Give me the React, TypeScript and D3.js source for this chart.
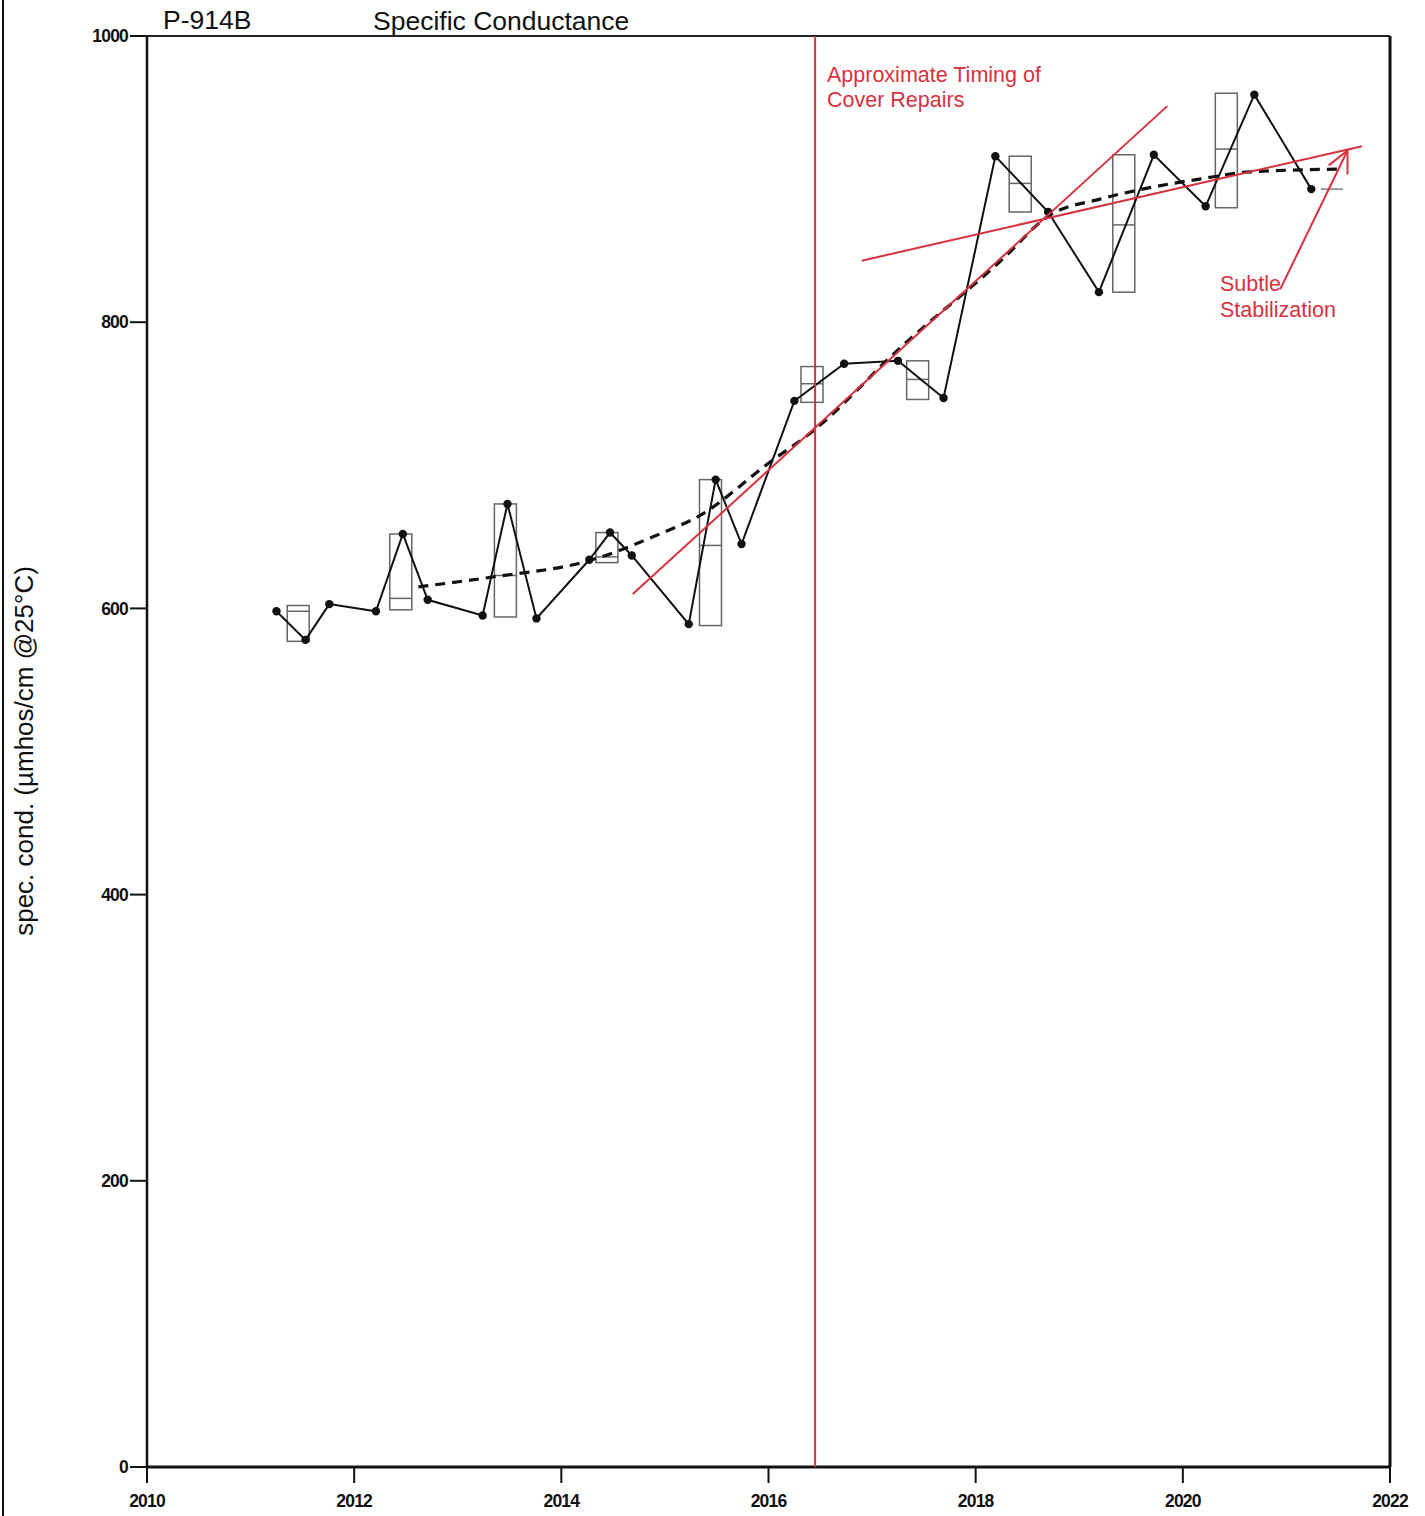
import * as d3 from 'd3';

// measured samples (decimal year, µmhos/cm)
const sampleYears = [
  2011.25, 2011.53, 2011.76, 2012.21, 2012.47, 2012.71, 2013.24, 2013.48, 2013.76,
  2014.27, 2014.47, 2014.68, 2015.23, 2015.49, 2015.74, 2016.25, 2016.73, 2017.25,
  2017.69, 2018.19, 2018.7, 2019.19, 2019.72, 2020.22, 2020.69, 2021.24,
];
const sampleValues = [
  598, 578, 603, 598, 652, 606, 595, 673, 593,
  634, 653, 637, 589, 690, 645, 745, 771, 773,
  747, 916, 877, 821, 917, 881, 959, 893,
];

// yearly boxes
const boxYears = [2011.46, 2012.45, 2013.46, 2014.44, 2015.44, 2016.42, 2017.44, 2018.43, 2019.43, 2020.42, 2021.44];
const boxLow = [577, 599, 594, 632, 588, 744, 746, 877, 821, 880, 893];
const boxMedian = [598, 607, 623, 636, 644, 757, 760, 897, 868, 921, 893];
const boxHigh = [602, 652, 673, 653, 690, 769, 773, 916, 917, 960, 893];

// smoothed trend (dashed)
const smoothYears = [2012.62, 2013.34, 2014.25, 2014.95, 2015.34, 2016.01, 2016.43, 2017.27, 2018.23, 2018.72, 2019.2, 2019.68, 2020.16, 2020.65, 2021.52];
const smoothValues = [615, 622, 633, 652, 665, 702, 724, 782, 842, 875, 886, 894, 900, 905, 907];

// hand-drawn annotations
const repairYear = 2016.45;
const steepTrend = [[2014.69, 610], [2019.85, 951]];
const flatTrend = [[2016.9, 843], [2021.73, 923]];
const arrowPath = [[2020.94, 823], [2021.59, 920]];

const yTicks = [0, 200, 400, 600, 800, 1000];
const xTicks = [2010, 2012, 2014, 2016, 2018, 2020, 2022];

const RED = '#d8313f';
const FONT = '"Liberation Sans", Arial, sans-serif';

export default function App() {
  const width = 1425;
  const height = 1516;

  const x = d3.scaleLinear().domain([2010, 2022]).range([147, 1390]);
  const y = d3.scaleLinear().domain([0, 1000]).range([1467, 36]);

  const sampleLine = d3
    .line<number>()
    .x((d, i) => x(sampleYears[i]))
    .y((d) => y(d));

  const smoothLine = d3
    .line<number>()
    .x((d, i) => x(smoothYears[i]))
    .y((d) => y(d))
    .curve(d3.curveMonotoneX);

  const seg = d3
    .line<number[]>()
    .x((d) => x(d[0]))
    .y((d) => y(d[1]));

  // arrow head at end of arrow
  const ax0 = x(arrowPath[0][0]);
  const ay0 = y(arrowPath[0][1]);
  const ax1 = x(arrowPath[1][0]);
  const ay1 = y(arrowPath[1][1]);
  const ang = Math.atan2(ay1 - ay0, ax1 - ax0);
  const headLen = 24;
  const barb = (off: number) =>
    `${ax1 - headLen * Math.cos(ang + off)},${ay1 - headLen * Math.sin(ang + off)}`;

  const boxW = 22;

  return (
    <svg
      width={width}
      height={height}
      style={{ position: 'absolute', left: 0, top: 0, background: '#fff' }}
      fontFamily={FONT}
    >
      {/* page edge */}
      <line x1={3} x2={3} y1={0} y2={height} stroke="#111" strokeWidth={2} />

      {/* titles */}
      <text x={163} y={29} fontSize={26.5} fill="#111">P-914B</text>
      <text x={373} y={30} fontSize={26.5} fill="#111">Specific Conductance</text>

      {/* frame */}
      <line x1={x(2010)} x2={x(2022)} y1={y(1000)} y2={y(1000)} stroke="#222" strokeWidth={2} />
      <line x1={x(2022)} x2={x(2022)} y1={y(1000)} y2={y(0)} stroke="#111" strokeWidth={3} />
      <line x1={x(2010)} x2={x(2010)} y1={y(1000)} y2={y(0)} stroke="#111" strokeWidth={2.5} />
      <line x1={x(2010)} x2={x(2022)} y1={y(0)} y2={y(0)} stroke="#111" strokeWidth={3} />

      {/* y ticks */}
      {yTicks.map((t) => (
        <g key={t}>
          <line x1={x(2010) - 17} x2={x(2010)} y1={y(t)} y2={y(t)} stroke="#111" strokeWidth={2} />
          <text
            x={x(2010) - 19}
            y={y(t)}
            dy="0.35em"
            textAnchor="end"
            fontSize={17.5}
            fontWeight="bold"
            letterSpacing={-0.8}
            fill="#111"
          >
            {t}
          </text>
        </g>
      ))}

      {/* x ticks */}
      {xTicks.map((t) => (
        <g key={t}>
          <line x1={x(t)} x2={x(t)} y1={y(0)} y2={y(0) + 16} stroke="#111" strokeWidth={2} />
          <text
            x={x(t)}
            y={y(0) + 40}
            textAnchor="middle"
            fontSize={17.5}
            fontWeight="bold"
            letterSpacing={-0.8}
            fill="#111"
          >
            {t}
          </text>
        </g>
      ))}

      {/* y label */}
      <text
        transform="translate(33, 751) rotate(-90)"
        textAnchor="middle"
        fontSize={26}
        fill="#111"
      >
        spec. cond. (µmhos/cm @25°C)
      </text>

      {/* boxes */}
      {boxYears.map((yr, i) => {
        const cx = x(yr);
        const top = y(boxHigh[i]);
        const bot = y(boxLow[i]);
        return (
          <g key={yr} stroke="#666" strokeWidth={1.5} fill="none">
            {bot - top > 1 ? (
              <rect x={cx - boxW / 2} y={top} width={boxW} height={bot - top} />
            ) : (
              <line x1={cx - boxW / 2} x2={cx + boxW / 2} y1={top} y2={top} stroke="#999" strokeWidth={2} />
            )}
            {bot - top > 1 && (
              <line x1={cx - boxW / 2} x2={cx + boxW / 2} y1={y(boxMedian[i])} y2={y(boxMedian[i])} />
            )}
          </g>
        );
      })}

      {/* smoothed trend */}
      <path
        d={smoothLine(smoothValues) || ''}
        fill="none"
        stroke="#111"
        strokeWidth={3.2}
        strokeDasharray="10 7"
      />

      {/* samples */}
      <path d={sampleLine(sampleValues) || ''} fill="none" stroke="#111" strokeWidth={2} />
      {sampleValues.map((v, i) => (
        <circle key={i} cx={x(sampleYears[i])} cy={y(v)} r={4.2} fill="#111" />
      ))}

      {/* annotations */}
      <line x1={x(repairYear)} x2={x(repairYear)} y1={y(1000)} y2={y(0)} stroke={RED} strokeWidth={2} />
      <path d={seg(steepTrend) || ''} stroke={RED} strokeWidth={2} fill="none" />
      <path d={seg(flatTrend) || ''} stroke={RED} strokeWidth={2} fill="none" />
      <path d={seg(arrowPath) || ''} stroke={RED} strokeWidth={2} fill="none" />
      <polyline
        points={`${barb(0.45)} ${ax1},${ay1} ${barb(-0.45)}`}
        stroke={RED}
        strokeWidth={2}
        fill="none"
      />

      <text x={827} y={82} fontSize={21.5} fill={RED}>Approximate Timing of</text>
      <text x={827} y={107} fontSize={21.5} fill={RED}>Cover Repairs</text>
      <text x={1220} y={291} fontSize={21.5} fill={RED}>Subtle</text>
      <text x={1220} y={317} fontSize={21.5} fill={RED}>Stabilization</text>
    </svg>
  );
}
